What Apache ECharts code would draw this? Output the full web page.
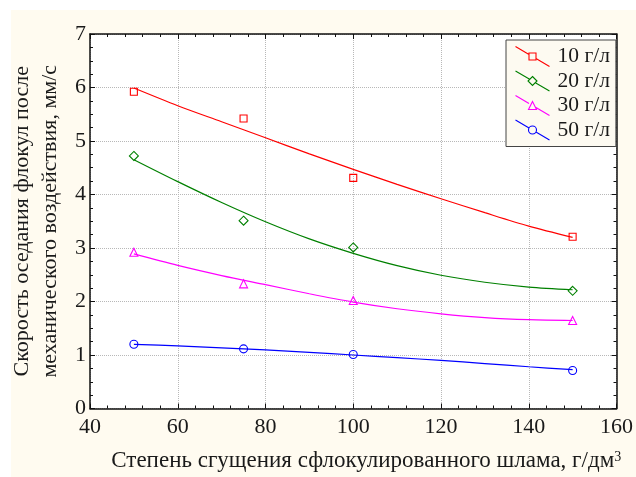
<!DOCTYPE html>
<html>
<head>
<meta charset="utf-8">
<script src="https://cdn.jsdelivr.net/npm/echarts@6/dist/echarts.min.js"></script>
<style>
html,body{margin:0;padding:0;background:#fff;}
#chart{width:636px;height:477px;}
</style>
</head>
<body>
<div id="chart"></div>
<script>
// ---- data ----
const seriesNames = ['10 г/л', '20 г/л', '30 г/л', '50 г/л'];
const seriesColors = ['#ff0000', '#008000', '#ff00ff', '#0000ff'];
const seriesSymbols = ['rect', 'diamond', 'triangle', 'circle'];

// measured points
const xPts = [50, 75, 100, 150];
const pts10 = [5.92, 5.42, 4.31, 3.21];
const pts20 = [4.72, 3.51, 3.01, 2.20];
const pts30 = [2.92, 2.33, 2.02, 1.645];
const pts50 = [1.20, 1.115, 1.01, 0.71];

// fitted curves
const xFit = [50, 60, 70, 80, 90, 100, 110, 120, 130, 140, 150];
const fit10 = [5.99, 5.66, 5.36, 5.06, 4.76, 4.47, 4.19, 3.92, 3.66, 3.41, 3.20];
const fit20 = [4.65, 4.24, 3.85, 3.49, 3.17, 2.90, 2.67, 2.49, 2.36, 2.27, 2.22];
const fit30 = [2.89, 2.675, 2.485, 2.315, 2.145, 1.99, 1.865, 1.77, 1.70, 1.66, 1.645];
const fit50 = [1.20, 1.17, 1.135, 1.095, 1.05, 1.00, 0.95, 0.90, 0.84, 0.78, 0.725];

const xTicks = [40, 60, 80, 100, 120, 140, 160];
const yTicks = [0, 1, 2, 3, 4, 5, 6, 7];

const xTitle = 'Степень сгущения сфлокулированного шлама, г/дм';
const xTitleSup = '3';
const yTitle1 = 'Скорость оседания флокул после';
const yTitle2 = 'механического воздействия, мм/с';

// ---- build ----
const ptsAll = [pts10, pts20, pts30, pts50];
const fitAll = [fit10, fit20, fit30, fit50];
const FONT = '"Liberation Serif", "Times New Roman", serif';
const TXT = '#1a1a1a';

const legendIcons = [
  'path://M0,0L13.5,7.94M20.5,12.06L34,20M13.5,6.5L20.5,6.5L20.5,13.5L13.5,13.5Z',
  'path://M0,0L14.17,8.33M19.83,11.67L34,20M17,5.5L21.5,10L17,14.5L12.5,10Z',
  'path://M0,0L13.5,7.94M20.5,12.06L34,20M17,6L21,14L13,14Z',
  'path://M0,0L13.55,7.97M20.45,12.03L34,20M21,10A4,4,0,1,1,13,10A4,4,0,1,1,21,10Z'
];
const symbolSizes = [7, 9, 8, 8];

const series = [];
seriesNames.forEach((name, i) => {
  series.push({
    name: name,
    type: 'line',
    smooth: 0.3,
    showSymbol: false,
    symbol: 'none',
    data: xFit.map((x, k) => [x, fitAll[i][k]]),
    lineStyle: { color: seriesColors[i], width: 1.2 },
    itemStyle: { color: seriesColors[i] },
    z: 3
  });
  series.push({
    name: name,
    type: 'scatter',
    symbol: seriesSymbols[i],
    symbolSize: symbolSizes[i],
    data: xPts.map((x, k) => [x, ptsAll[i][k]]),
    itemStyle: { color: 'rgba(255,255,255,0)', borderColor: seriesColors[i], borderWidth: 1.1, opacity: 1 },
    z: 4
  });
});

function axisCommon() {
  return {
    axisLine: { show: true, onZero: false, lineStyle: { color: '#111', width: 1.5 } },
    axisTick: { show: true, inside: true, length: 5, lineStyle: { color: '#111', width: 1 } }
  };
}

const option = {
  animation: false,
  backgroundColor: '#fffbf0',
  textStyle: { fontFamily: FONT },
  graphic: [
    { type: 'rect', shape: { x: 0, y: 0, width: 636, height: 10 }, style: { fill: '#ffffff' }, silent: true },
    { type: 'rect', shape: { x: 0, y: 0, width: 11, height: 477 }, style: { fill: '#ffffff' }, silent: true }
  ],
  grid: { left: 90, right: 18, top: 34, bottom: 67, show: true, backgroundColor: '#ffffff', borderWidth: 0, containLabel: false },
  legend: {
    orient: 'vertical',
    left: 506, top: 40,
    padding: [4, 6, 4, 7],
    itemGap: -0.5,
    itemWidth: 34, itemHeight: 20,
    backgroundColor: '#fdfaf1',
    borderColor: '#444',
    borderWidth: 1,
    textStyle: { fontSize: 21.5, fontFamily: FONT, color: TXT, lineHeight: 20, padding: [0, 0, 0, 3] },
    data: seriesNames.map((n, i) => ({
      name: n,
      icon: legendIcons[i],
      itemStyle: { color: 'none', borderColor: seriesColors[i], borderWidth: 1.1 }
    }))
  },
  xAxis: [
    Object.assign(axisCommon(), {
      type: 'value', position: 'bottom',
      min: xTicks[0], max: xTicks[xTicks.length - 1], interval: 20,
      minorTick: { show: true, splitNumber: 5, length: 3, lineStyle: { color: '#111', width: 1 } },
      axisLabel: { fontSize: 22, fontFamily: FONT, color: TXT, margin: 8 },
      splitLine: { show: true, lineStyle: { color: '#b8b8b8', type: 'dotted', width: 1 } },
      name: '{a|' + xTitle + '}{s|' + xTitleSup + '}',
      nameLocation: 'middle',
      nameGap: 39,
      nameTextStyle: {
        padding: [0, 0, 0, 26],
        rich: {
          a: { fontSize: 23, fontFamily: FONT, color: TXT, lineHeight: 26 },
          s: { fontSize: 14, fontFamily: FONT, color: TXT, verticalAlign: 'top', lineHeight: 14, padding: [3, 0, 0, 0] }
        }
      }
    }),
    Object.assign(axisCommon(), {
      type: 'value', position: 'top',
      min: xTicks[0], max: xTicks[xTicks.length - 1], interval: 20,
      minorTick: { show: true, splitNumber: 5, length: 3, lineStyle: { color: '#111', width: 1 } },
      axisLabel: { show: false },
      splitLine: { show: false }
    })
  ],
  yAxis: [
    Object.assign(axisCommon(), {
      type: 'value', position: 'left',
      min: yTicks[0], max: yTicks[yTicks.length - 1], interval: 1,
      minorTick: { show: true, splitNumber: 4, length: 3, lineStyle: { color: '#111', width: 1 } },
      axisLabel: { fontSize: 22, fontFamily: FONT, color: TXT, margin: 4 },
      splitLine: { show: true, lineStyle: { color: '#b8b8b8', type: 'dotted', width: 1 } },
      name: yTitle1 + '\n' + yTitle2,
      nameLocation: 'middle',
      nameRotate: 90,
      nameGap: 24,
      nameTextStyle: { fontSize: 22, fontFamily: FONT, color: TXT, lineHeight: 28 }
    }),
    Object.assign(axisCommon(), {
      type: 'value', position: 'right',
      min: yTicks[0], max: yTicks[yTicks.length - 1], interval: 1,
      minorTick: { show: true, splitNumber: 4, length: 3, lineStyle: { color: '#111', width: 1 } },
      axisLabel: { show: false },
      splitLine: { show: false }
    })
  ],
  series: series
};

const chart = echarts.init(document.getElementById('chart'), null, { renderer: 'canvas' });
chart.setOption(option);
</script>
</body>
</html>
